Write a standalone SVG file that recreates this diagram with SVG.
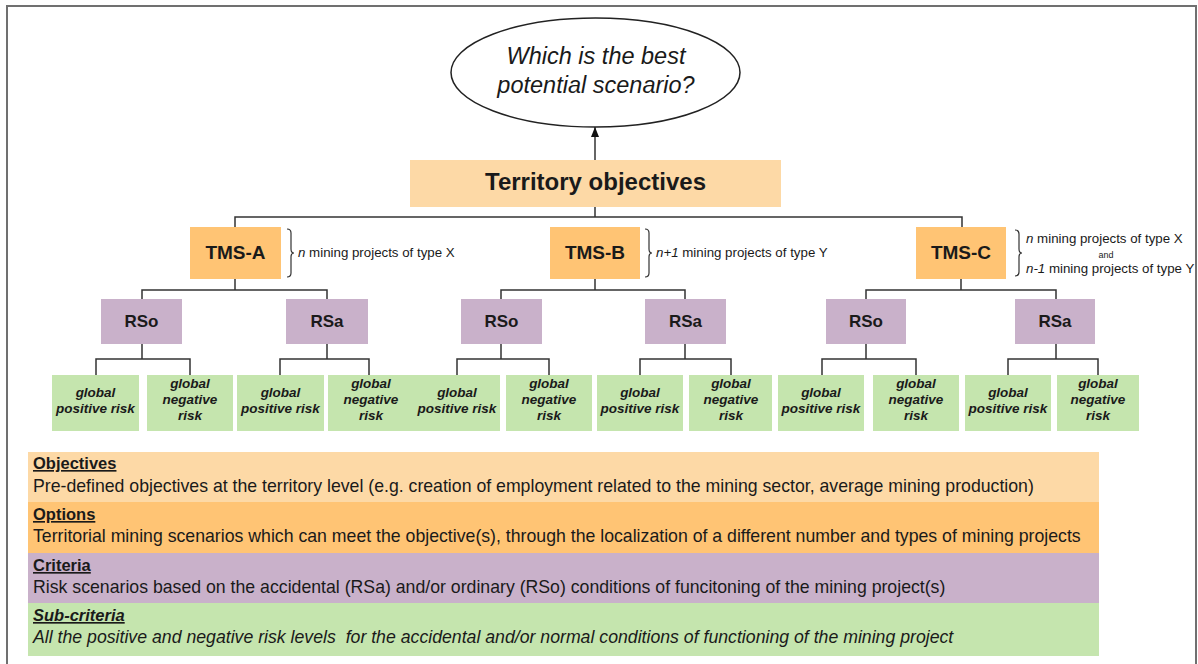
<svg xmlns="http://www.w3.org/2000/svg" width="1198" height="664" viewBox="0 0 1198 664">
<defs>
<marker id="arr" markerWidth="10" markerHeight="8" refX="10" refY="4" orient="auto" markerUnits="userSpaceOnUse" viewBox="0 0 10 8">
<path d="M0,0 L10,4 L0,8 Z" fill="#111"/>
</marker>
</defs>
<style>
text{font-family:"Liberation Sans",Arial,sans-serif;fill:#1a1a1a}
.frame{fill:#fff;stroke:#707070;stroke-width:2}
.conn{fill:none;stroke:#333;stroke-width:1.5}
.obj{fill:#FDD9A6}
.opt{fill:#FFC474}
.cri{fill:#C9B1CA}
.sub{fill:#C5E5AE}
.tms{font-size:19px;font-weight:bold;text-anchor:middle}
.rs{font-size:17px;font-weight:bold;text-anchor:middle}
.g{font-size:13.5px;font-weight:bold;font-style:italic;text-anchor:middle}
.note{font-size:13.3px}
.brace{fill:none;stroke:#333;stroke-width:1.2}
.lh{font-size:16.5px;font-weight:bold;text-decoration:underline}
.lb{font-size:17.7px}
</style>
<rect class="frame" x="7" y="6" width="1189" height="662"/>

<g id="connectors">
<line class="conn" x1="595" y1="160" x2="595" y2="127" marker-end="url(#arr)"/>
<path class="conn" d="M595,207 V217 M235,227 V217 H962 V227"/>
<path class="conn" d="M235,279 V290 M142,299 V290 H327 V299"/>
<path class="conn" d="M595,279 V290 M501,299 V290 H685 V299"/>
<path class="conn" d="M961,279 V290 M866,299 V290 H1056 V299"/>
<path class="conn" d="M142,344 V359 M96,375 V359 H190 V375"/>
<path class="conn" d="M327,344 V359 M280,375 V359 H369 V375"/>
<path class="conn" d="M501,344 V359 M457,375 V359 H549 V375"/>
<path class="conn" d="M685,344 V359 M640,375 V359 H731 V375"/>
<path class="conn" d="M866,344 V359 M822,375 V359 H916 V375"/>
<path class="conn" d="M1056,344 V359 M1008,375 V359 H1098 V375"/>
</g>

<g id="question">
<ellipse cx="595.5" cy="72.5" rx="144.5" ry="54.5" fill="#fff" stroke="#222" stroke-width="1.5"/>
<text x="596" y="64" font-size="23.5" font-style="italic" text-anchor="middle">Which is the best</text>
<text x="596" y="93" font-size="23.5" font-style="italic" text-anchor="middle">potential scenario?</text>
</g>

<g id="territory">
<rect class="obj" x="410" y="160" width="371" height="47"/>
<text x="595.5" y="190" font-size="24" font-weight="bold" text-anchor="middle">Territory objectives</text>
</g>

<g id="tms-a">
<rect class="opt" x="190" y="227" width="91" height="52"/>
<text class="tms" x="235.5" y="259">TMS-A</text>
<path class="brace" d="M287,229 q4,0 4,4 v16 q0,4 3,4 q-3,0 -3,4 v16 q0,4 -4,4"/>
<text class="note" x="298" y="257"><tspan font-style="italic">n</tspan> mining projects of type X</text>
</g>
<g id="tms-b">
<rect class="opt" x="550" y="227" width="90" height="52"/>
<text class="tms" x="595" y="259">TMS-B</text>
<path class="brace" d="M645,229 q4,0 4,4 v16 q0,4 3,4 q-3,0 -3,4 v16 q0,4 -4,4"/>
<text class="note" x="656" y="257"><tspan font-style="italic">n+1</tspan> mining projects of type Y</text>
</g>
<g id="tms-c">
<rect class="opt" x="916" y="227" width="90" height="52"/>
<text class="tms" x="961" y="259">TMS-C</text>
<path class="brace" d="M1015,230 q4,0 4,4 v15 q0,4 3,4 q-3,0 -3,4 v15 q0,4 -4,4"/>
<text class="note" x="1026" y="243"><tspan font-style="italic">n</tspan> mining projects of type X</text>
<text x="1106" y="258" font-size="9" text-anchor="middle">and</text>
<text class="note" x="1026" y="273"><tspan font-style="italic">n-1</tspan> mining projects of type Y</text>
</g>

<g id="rso-a"><rect class="cri" x="101" y="299" width="81" height="45"/><text class="rs" x="141.5" y="327">RSo</text></g>
<g id="rsa-a"><rect class="cri" x="286" y="299" width="82" height="45"/><text class="rs" x="327" y="327">RSa</text></g>
<g id="rso-b"><rect class="cri" x="461" y="299" width="81" height="45"/><text class="rs" x="501.5" y="327">RSo</text></g>
<g id="rsa-b"><rect class="cri" x="645" y="299" width="81" height="45"/><text class="rs" x="685.5" y="327">RSa</text></g>
<g id="rso-c"><rect class="cri" x="826" y="299" width="80" height="45"/><text class="rs" x="866" y="327">RSo</text></g>
<g id="rsa-c"><rect class="cri" x="1015" y="299" width="80" height="45"/><text class="rs" x="1055" y="327">RSa</text></g>

<g id="a-pos"><rect class="sub" x="52" y="375" width="87" height="56"/><text class="g" x="95.5" y="397">global</text><text class="g" x="95.5" y="413">positive risk</text></g>
<g id="a-neg"><rect class="sub" x="147" y="375" width="86" height="56"/><text class="g" x="190" y="388">global</text><text class="g" x="190" y="404">negative</text><text class="g" x="190" y="420">risk</text></g>
<g id="a2-pos"><rect class="sub" x="237" y="375" width="87" height="56"/><text class="g" x="280.5" y="397">global</text><text class="g" x="280.5" y="413">positive risk</text></g>
<g id="a2-neg"><rect class="sub" x="328" y="375" width="86" height="56"/><text class="g" x="371" y="388">global</text><text class="g" x="371" y="404">negative</text><text class="g" x="371" y="420">risk</text></g>

<g id="b-pos"><rect class="sub" x="414" y="375" width="86" height="56"/><text class="g" x="457" y="397">global</text><text class="g" x="457" y="413">positive risk</text></g>
<g id="b-neg"><rect class="sub" x="506" y="375" width="86" height="56"/><text class="g" x="549" y="388">global</text><text class="g" x="549" y="404">negative</text><text class="g" x="549" y="420">risk</text></g>
<g id="b2-pos"><rect class="sub" x="597" y="375" width="86" height="56"/><text class="g" x="640" y="397">global</text><text class="g" x="640" y="413">positive risk</text></g>
<g id="b2-neg"><rect class="sub" x="689" y="375" width="83" height="56"/><text class="g" x="731" y="388">global</text><text class="g" x="731" y="404">negative</text><text class="g" x="731" y="420">risk</text></g>

<g id="c-pos"><rect class="sub" x="778" y="375" width="86" height="56"/><text class="g" x="821" y="397">global</text><text class="g" x="821" y="413">positive risk</text></g>
<g id="c-neg"><rect class="sub" x="873" y="375" width="86" height="56"/><text class="g" x="916" y="388">global</text><text class="g" x="916" y="404">negative</text><text class="g" x="916" y="420">risk</text></g>
<g id="c2-pos"><rect class="sub" x="965" y="375" width="86" height="56"/><text class="g" x="1008" y="397">global</text><text class="g" x="1008" y="413">positive risk</text></g>
<g id="c2-neg"><rect class="sub" x="1057" y="375" width="82" height="56"/><text class="g" x="1098" y="388">global</text><text class="g" x="1098" y="404">negative</text><text class="g" x="1098" y="420">risk</text></g>

<g id="legend">
<rect class="obj" x="28" y="452" width="1071" height="50"/>
<text class="lh" x="33" y="469">Objectives</text>
<text class="lb" x="33" y="492">Pre-defined objectives at the territory level (e.g. creation of employment related to the mining sector, average mining production)</text>
<rect class="opt" x="28" y="502" width="1071" height="51"/>
<text class="lh" x="33" y="520">Options</text>
<text class="lb" x="33" y="542">Territorial mining scenarios which can meet the objective(s), through the localization of a different number and types of mining projects</text>
<rect class="cri" x="28" y="553" width="1071" height="50"/>
<text class="lh" x="33" y="571">Criteria</text>
<text class="lb" x="33" y="593">Risk scenarios based on the accidental (RSa) and/or ordinary (RSo) conditions of funcitoning of the mining project(s)</text>
<rect class="sub" x="28" y="603" width="1071" height="53"/>
<text class="lh" x="33" y="621" font-style="italic">Sub-criteria</text>
<text class="lb" x="33" y="643" font-style="italic" xml:space="preserve">All the positive and negative risk levels  for the accidental and/or normal conditions of functioning of the mining project</text>
</g>
</svg>
